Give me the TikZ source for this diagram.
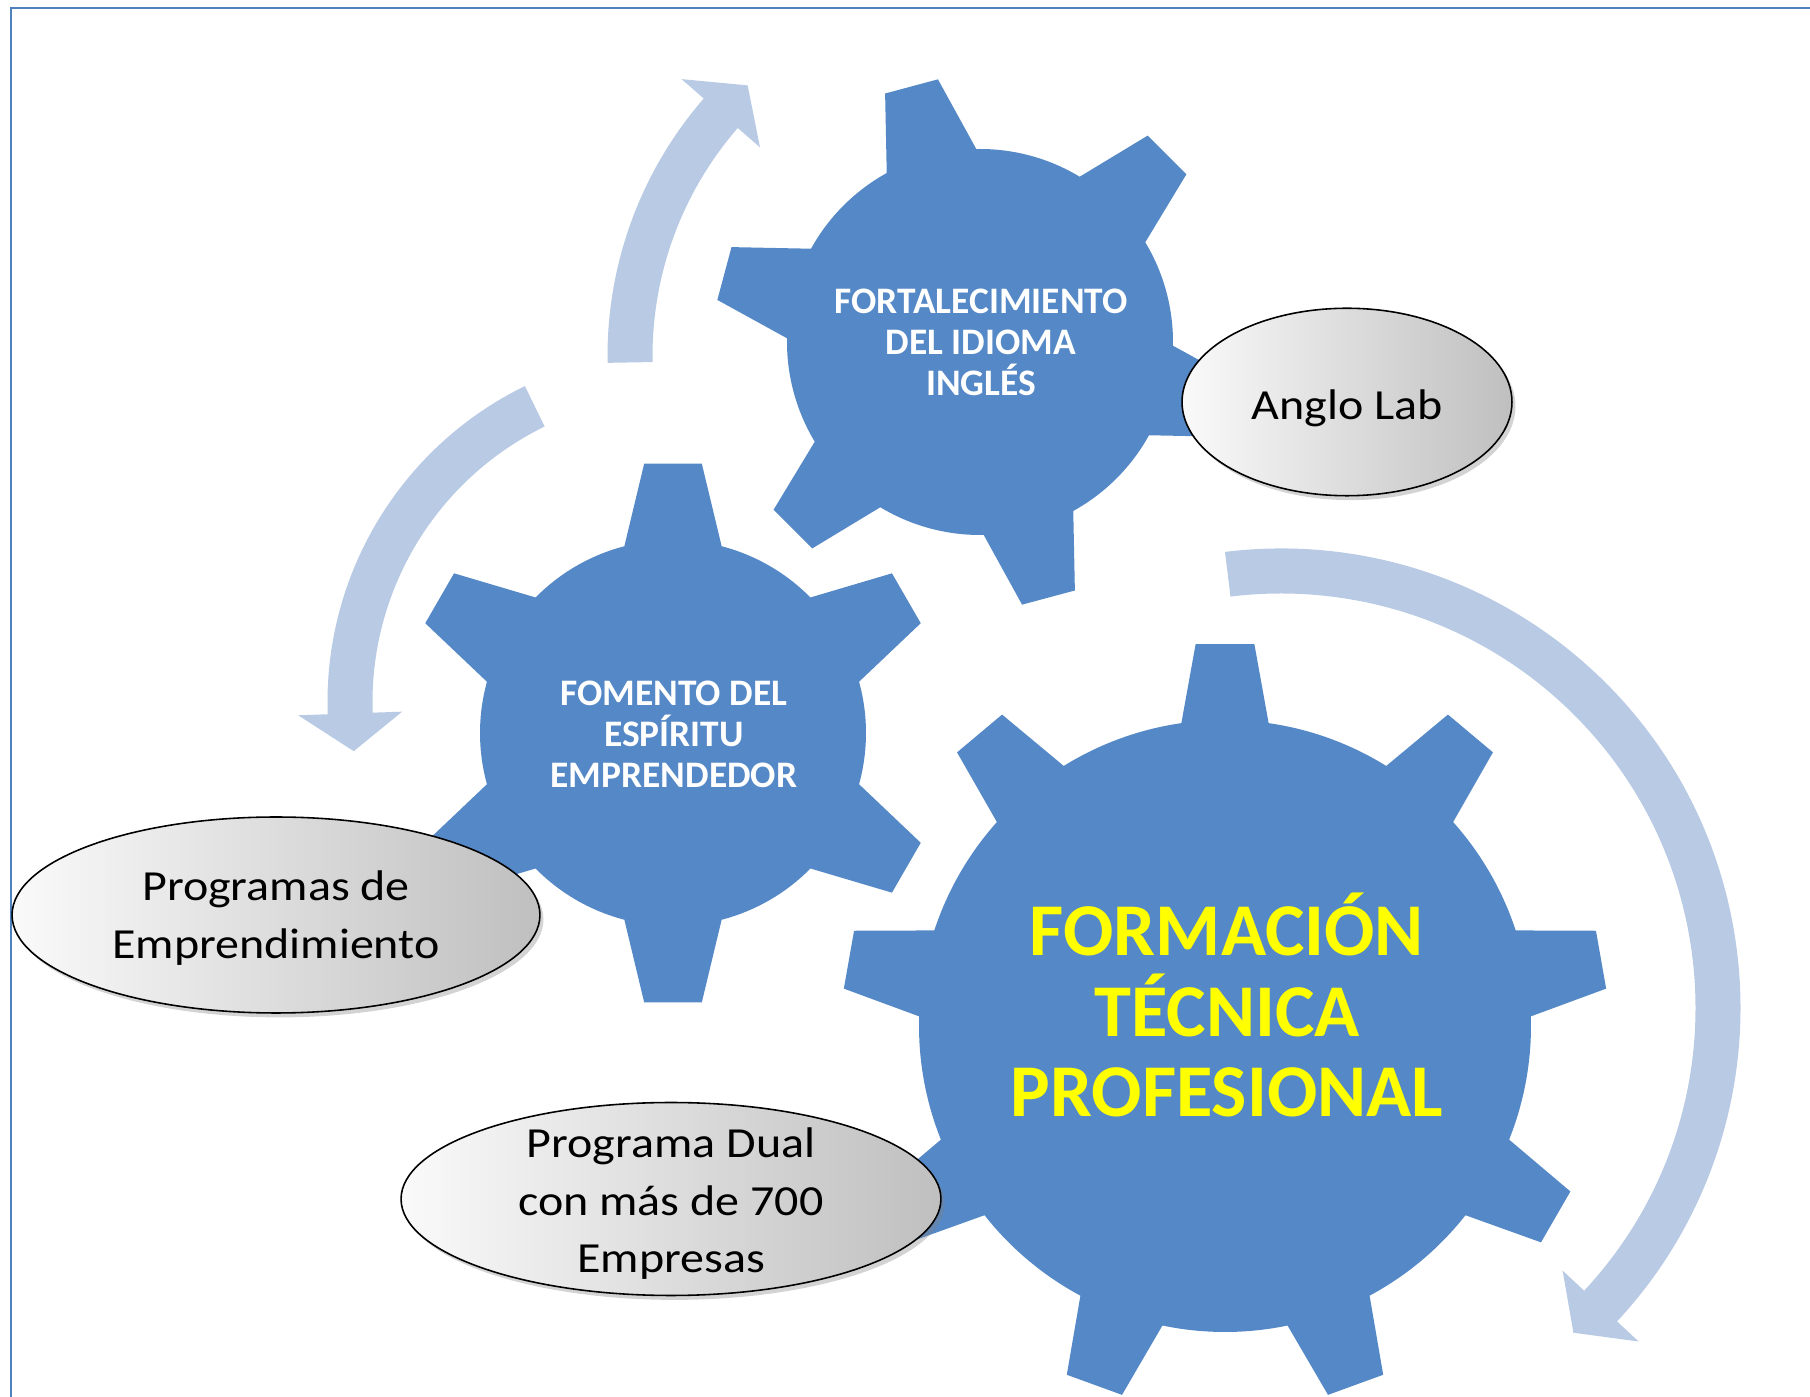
\documentclass[tikz,border=0pt]{standalone}
\usepackage{fontspec}
\setmainfont{Carlito}
\newfontfamily\bubblefont[FakeStretch=1.12]{Carlito}
\usetikzlibrary{shapes.geometric, shadows, calc}
\definecolor{GearBlue}{HTML}{5588C6}
\definecolor{ArrowBlue}{HTML}{B9CAE4}
\definecolor{FrameBlue}{HTML}{4F81BD}
\definecolor{TitleYellow}{HTML}{FFFF00}

% curved arrow: centre, radius, start angle, head angle, tip angle
\newcommand{\cyclearrow}[5]{%
  \fill[ArrowBlue, shift={(#1)}]
    ({#3}:{#2+22.5}) arc[start angle={#3}, end angle={#4}, radius={#2+22.5}]
    -- ({#4}:{#2+52}) -- ({#5}:{#2}) -- ({#4}:{#2-52}) -- ({#4}:{#2-22.5})
    arc[start angle={#4}, end angle={#3}, radius={#2-22.5}] -- cycle;}

\begin{document}
\begin{tikzpicture}[
    x=0.02cm, y=0.02cm,
    gearlabel/.style={text=white, font=\bfseries\fontsize{21.3}{23.3}\selectfont, align=center},
    mainlabel/.style={text=TitleYellow, font=\bfseries\fontsize{42.4}{45.8}\selectfont, align=center},
    bubble/.style={ellipse, draw=black, line width=0.9pt, inner sep=0pt,
        left color=gray!4, right color=gray!50,
        drop shadow={shadow xshift=2pt, shadow yshift=-2.5pt, opacity=0.35}},
    bubbletext/.style={font=\bubblefont\fontsize{24.4}{32.7}\selectfont, align=center}
]
    % === CANVAS ===
    \useasboundingbox (0,0) rectangle (1810,1397);
    \clip (0,0) rectangle (1810,1397);
    \draw[FrameBlue, line width=1.3pt] (11,-20) -- (11,1389) -- (1830,1389);

    % === GEAR CENTRES ===
    \coordinate (Idioma) at (980,1055);
    \coordinate (Emprende) at (673,664);
    \coordinate (Formacion) at (1225,371);

    % === ARROWS (drawn first, behind the gears) ===
    \coordinate (TopTurn) at (1000,1041);
    \coordinate (LeftTurn) at (679,695);
    \coordinate (BigTurn) at (1281,389);
    \cyclearrow{TopTurn}{370}{181}{139}{133}
    \cyclearrow{LeftTurn}{329}{116}{182}{188.6}
    \cyclearrow{BigTurn}{437}{97}{-43}{-48}

    % === GEARS ===
    % centre / body radius / tip radius / last tooth / first angle / pitch / base and tip half-angles
    \foreach \g/\rbody/\rtip/\last/\off/\pitch/\wbase/\wtip in
        {Idioma/193/266/5/45/60/13.9/5.9,
         Emprende/193/271/5/30/60/14.6/6.1,
         Formacion/306/383/8/90/40/8.2/4.4} {
      \fill[GearBlue, shift={(\g)}] ({\off-\wbase}:\rbody)
        \foreach \k in {0,...,\last} {
          -- ({\off+\k*\pitch-\wbase}:\rbody) -- ({\off+\k*\pitch-\wtip}:\rtip)
          -- ({\off+\k*\pitch+\wtip}:\rtip) -- ({\off+\k*\pitch+\wbase}:\rbody)
          arc[start angle={\off+\k*\pitch+\wbase}, end angle={\off+(\k+1)*\pitch-\wbase}, radius=\rbody]
        } -- cycle;
    }

    % === GEAR LABELS ===
    \node[gearlabel] (IdiomaText) at (981,1055) {FORTALECIMIENTO\\DEL IDIOMA\\INGLÉS};
    \node[gearlabel] (EmprendeText) at (674,663) {FOMENTO DEL\\ESPÍRITU\\EMPRENDEDOR};
    \node[mainlabel] (FormacionText) at (1227,392) {FORMACIÓN\\TÉCNICA\\PROFESIONAL};

    % === PROGRAM BUBBLES ===
    \node[bubble, minimum width=6.6cm, minimum height=3.75cm] (AngloLab) at (1347,995) {};
    \node[bubbletext] (AngloText) at (1347,989) {Anglo Lab};
    \node[bubble, minimum width=10.56cm, minimum height=3.92cm] (Programas) at (276,482) {};
    \node[bubbletext] (ProgramasText) at (276,479) {Programas de\\Emprendimiento};
    \node[bubble, minimum width=10.8cm, minimum height=3.86cm] (Dual) at (671,198) {};
    \node[bubbletext] (DualText) at (671,193) {Programa Dual\\con más de 700\\Empresas};
\end{tikzpicture}
\end{document}
